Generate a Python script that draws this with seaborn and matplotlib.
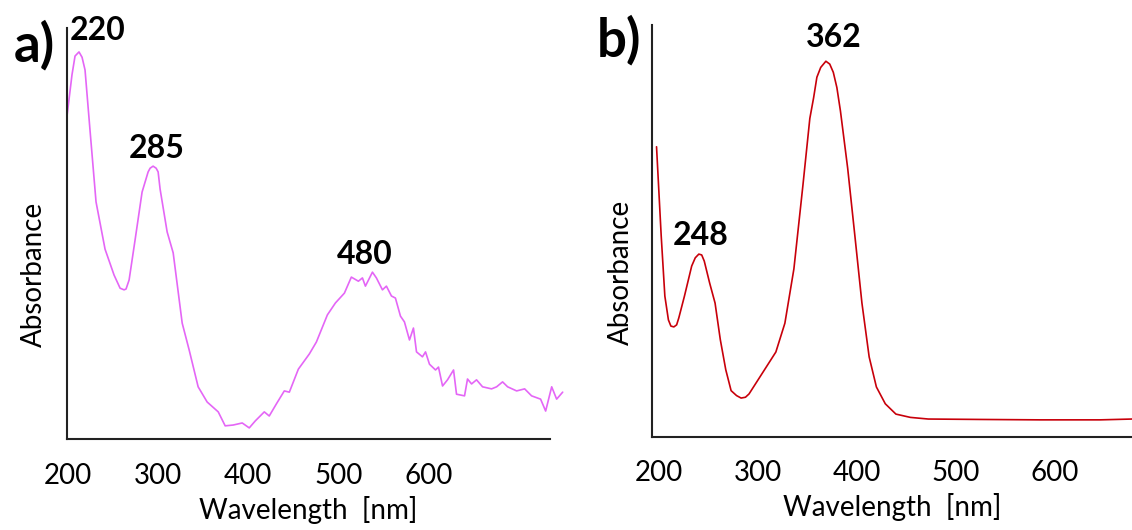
import numpy as np
import pandas as pd
import seaborn as sns
import matplotlib
matplotlib.use('Agg')
import matplotlib.pyplot as plt

# panel a) spectrum (absorbance in arbitrary units)
wl_a = [198.9, 204.4, 207.8, 212.2, 215.6, 218.9, 224.4, 231.1, 241.1, 251.1,
        257.8, 260.0, 262.2, 264.4, 267.8, 274.4, 282.2, 288.9, 291.1, 294.4,
        297.8, 300.0, 302.2, 310.0, 316.7, 326.7, 334.4, 344.4, 354.4, 366.7,
        374.4, 383.3, 393.3, 401.1, 407.8, 417.8, 423.3, 431.1, 440.0, 445.6,
        455.6, 467.8, 475.6, 487.8, 496.7, 506.7, 514.4, 522.2, 526.7, 530.0,
        537.8, 542.2, 548.9, 553.3, 558.9, 563.3, 568.9, 573.3, 578.9, 583.3,
        586.7, 593.3, 596.7, 601.1, 607.8, 611.1, 615.6, 621.1, 627.8, 631.1,
        640.0, 643.3, 647.8, 653.3, 660.0, 670.0, 675.6, 682.2, 687.8, 697.8,
        706.7, 714.4, 724.4, 730.0, 736.7, 742.2, 748.9]
abs_a = [0.786, 0.886, 0.932, 0.942, 0.929, 0.898, 0.752, 0.577, 0.462, 0.399,
         0.367, 0.365, 0.363, 0.365, 0.387, 0.484, 0.601, 0.650, 0.659, 0.664,
         0.659, 0.650, 0.608, 0.504, 0.453, 0.282, 0.217, 0.127, 0.090, 0.066,
         0.032, 0.034, 0.039, 0.027, 0.044, 0.066, 0.056, 0.085, 0.117, 0.114,
         0.170, 0.207, 0.236, 0.302, 0.331, 0.355, 0.394, 0.384, 0.392, 0.372,
         0.406, 0.392, 0.363, 0.372, 0.348, 0.343, 0.299, 0.285, 0.241, 0.270,
         0.212, 0.200, 0.212, 0.182, 0.168, 0.175, 0.129, 0.144, 0.168, 0.109,
         0.105, 0.146, 0.134, 0.144, 0.127, 0.122, 0.127, 0.139, 0.127, 0.117,
         0.122, 0.105, 0.097, 0.068, 0.127, 0.097, 0.114]

# panel b) spectrum
wl_b = [197.7, 202.4, 206.1, 209.7, 212.2, 215.2, 218.0, 220.2, 225.9, 233.2,
        236.8, 240.4, 243.3, 245.9, 251.3, 256.8, 262.1, 267.6, 273.0, 278.5,
        283.1, 287.5, 291.1, 302.0, 318.2, 327.3, 336.4, 345.5, 352.5, 356.3,
        359.6, 363.5, 368.7, 372.6, 376.2, 379.8, 383.4, 390.7, 398.0, 405.1,
        412.4, 419.7, 428.7, 439.4, 454.0, 472.1, 524.2, 584.8, 645.5, 677.8]
abs_b = [0.705, 0.489, 0.342, 0.284, 0.269, 0.267, 0.272, 0.289, 0.342, 0.415,
         0.435, 0.444, 0.442, 0.427, 0.374, 0.325, 0.236, 0.163, 0.112, 0.100,
         0.094, 0.096, 0.104, 0.145, 0.206, 0.276, 0.408, 0.611, 0.774, 0.824,
         0.874, 0.898, 0.913, 0.906, 0.886, 0.849, 0.792, 0.653, 0.488, 0.325,
         0.194, 0.121, 0.080, 0.055, 0.047, 0.043, 0.042, 0.041, 0.041, 0.043]

ticks = [200, 300, 400, 500, 600]
peaks_a = ['220', '285', '480']
peaks_a_pos = [(233.3, 0.993), (298.9, 0.708), (528.9, 0.450)]
peaks_b = ['248', '362']
peaks_b_pos = [(242.2, 0.489), (376.8, 0.970)]

sns.set_theme(style='white')
plt.rcParams['font.family'] = ['Lato', 'DejaVu Sans']
plt.rcParams['text.color'] = 'black'
plt.rcParams['axes.labelcolor'] = 'black'

fig = plt.figure(figsize=(11.32, 5.30), dpi=100)
ax_a = fig.add_axes([0.0592, 0.1717, 0.4268, 0.7753])
ax_b = fig.add_axes([0.5763, 0.176, 0.4237, 0.776])

df_a = pd.DataFrame({'wl': wl_a, 'A': abs_a})
df_b = pd.DataFrame({'wl': wl_b, 'A': abs_b})

sns.lineplot(data=df_a, x='wl', y='A', ax=ax_a, color='#e466f6',
             linewidth=1.2, estimator=None, clip_on=False)
sns.lineplot(data=df_b, x='wl', y='A', ax=ax_b, color='#c8000a',
             linewidth=1.2, estimator=None, clip_on=False)

ax_a.set_xlim(198.9, 735)
ax_b.set_xlim(193.5, 677.8)

for ax, labels, pos, lx in [(ax_a, peaks_a, peaks_a_pos, -0.041),
                            (ax_b, peaks_b, peaks_b_pos, -0.038)]:
    ax.set_ylim(0, 1)
    ax.set_xticks(ticks)
    ax.set_xticklabels([str(t) for t in ticks], fontsize=20)
    ax.set_yticks([])
    ax.tick_params(axis='x', length=0, pad=17, colors='black')
    ax.set_xlabel('Wavelength  [nm]', fontsize=20, labelpad=5)
    ax.set_ylabel('Absorbance', fontsize=20)
    ax.yaxis.set_label_coords(lx, 0.40)
    sns.despine(ax=ax)
    for s in ['left', 'bottom']:
        ax.spines[s].set_color('#222222')
        ax.spines[s].set_linewidth(1.5)
    for t, (x, y) in zip(labels, pos):
        ax.text(x, y, t, fontsize=23, fontweight='bold', ha='center',
                va='center', color='black')

fig.text(0.030, 0.915, 'a)', fontsize=38, fontweight='bold', ha='center', va='center')
fig.text(0.547, 0.925, 'b)', fontsize=38, fontweight='bold', ha='center', va='center')

fig.savefig('out.png', dpi=100)
